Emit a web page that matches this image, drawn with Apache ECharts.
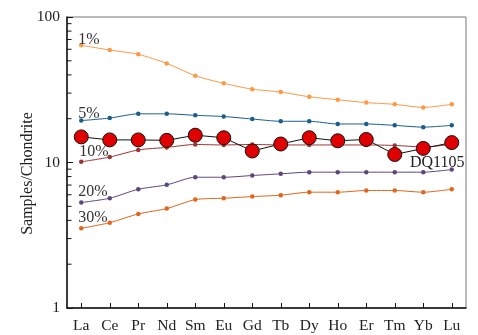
<!DOCTYPE html>
<html>
<head>
<meta charset="utf-8">
<script src="https://cdn.jsdelivr.net/npm/echarts@6/dist/echarts.min.js"></script>
<style>
html,body{margin:0;padding:0;background:#fff;}
#chart{width:478px;height:335px;}
</style>
</head>
<body>
<div id="chart"></div>
<script>
var categories = ['La','Ce','Pr','Nd','Sm','Eu','Gd','Tb','Dy','Ho','Er','Tm','Yb','Lu'];
var melt1  = [63.9,59.3,55.4,48.0,39.5,35.0,31.9,30.5,28.3,27.0,25.8,25.1,23.9,25.1];
var melt5  = [19.4,20.2,21.6,21.6,21.1,20.7,19.9,19.2,19.2,18.4,18.4,18.0,17.5,18.0];
var melt10 = [10.1,10.9,12.2,12.7,13.3,13.2,13.3,13.2,13.2,13.2,13.2,13.1,12.8,13.3];
var melt20 = [5.31,5.68,6.55,7.02,7.92,7.92,8.14,8.36,8.58,8.58,8.58,8.58,8.58,8.95];
var melt30 = [3.53,3.86,4.43,4.82,5.56,5.68,5.83,5.96,6.25,6.25,6.42,6.42,6.25,6.55];
var sampleDQ1105 = [15.0,14.3,14.3,14.2,15.4,14.8,12.0,13.4,14.8,14.1,14.4,11.35,12.5,13.7];
var yTickLabels = [1, 10, 100];
var minorTickValues = [2,3,4,5,6,7,8,9,20,30,40,50,60,70,80,90];

var FONT = 'Liberation Serif';

function modelSeries(name, values, color, offset) {
  return {
    name: name,
    type: 'line',
    smooth: 0.25,
    symbol: 'circle',
    symbolSize: 4.5,
    z: 3,
    lineStyle: {color: color, width: 1},
    itemStyle: {color: color},
    data: values.map(function (v, i) {
      if (i === 0) {
        return {
          value: v,
          label: {
            show: true,
            position: 'inside',
            align: 'left',
            verticalAlign: 'middle',
            offset: offset,
            formatter: name,
            fontFamily: FONT,
            fontSize: 16,
            color: '#333'
          }
        };
      }
      return v;
    })
  };
}

var chart = echarts.init(document.getElementById('chart'), null, {renderer: 'canvas'});

var option = {
  backgroundColor: '#fff',
  animation: false,
  grid: {
    left: 67, right: 12, top: 17, bottom: 27,
    show: true, borderColor: '#777', borderWidth: 1, backgroundColor: 'transparent'
  },
  xAxis: {
    type: 'category',
    data: categories,
    boundaryGap: true,
    axisLine: {show: true, lineStyle: {color: '#111', width: 1.5}},
    axisTick: {show: true, inside: true, alignWithLabel: true, length: 5, lineStyle: {color: '#111', width: 1}},
    axisLabel: {fontFamily: FONT, fontSize: 15.5, color: '#222', margin: 10, interval: 0},
    splitLine: {show: false}
  },
  yAxis: {
    type: 'log',
    logBase: 10,
    min: 1,
    max: 100,
    name: 'Samples/Chondrite',
    nameLocation: 'middle',
    nameGap: 31,
    nameMoveOverlap: false,
    nameTextStyle: {fontFamily: FONT, fontSize: 16, color: '#222', padding: [0, 22, 0, 0]},
    axisLine: {show: true, lineStyle: {color: '#111', width: 1.5}},
    axisTick: {show: true, inside: true, length: 6, lineStyle: {color: '#111', width: 1}},
    minorTick: {show: false},
    axisLabel: {
      fontFamily: FONT, fontSize: 15.5, color: '#222', margin: 7,
      formatter: function (v) { return yTickLabels.indexOf(Math.round(v)) >= 0 ? String(Math.round(v)) : ''; }
    },
    splitLine: {show: false},
    minorSplitLine: {show: false}
  },
  series: [
    {
      type: 'custom',
      silent: true,
      clip: false,
      z: 1,
      data: minorTickValues.map(function (v) { return [0, v]; }),
      encode: {x: 0, y: 1},
      renderItem: function (params, api) {
        var pt = api.coord([0, api.value(1)]);
        var x0 = params.coordSys.x;
        return {
          type: 'line',
          shape: {x1: x0, y1: pt[1], x2: x0 + 4.5, y2: pt[1]},
          style: {stroke: '#111', lineWidth: 1}
        };
      }
    },
    modelSeries('1%', melt1, '#fb9a46', [-3, -6]),
    modelSeries('5%', melt5, '#1b5e8a', [-3, -7]),
    modelSeries('10%', melt10, '#9c3535', [-2, -10]),
    modelSeries('20%', melt20, '#5d4580', [-3, -11]),
    modelSeries('30%', melt30, '#e2651b', [-3, -11]),
    {
      name: 'DQ1105',
      type: 'line',
      symbol: 'circle',
      symbolSize: 14,
      z: 5,
      lineStyle: {color: '#111', width: 1},
      itemStyle: {color: '#e00000', borderColor: '#111', borderWidth: 1},
      data: sampleDQ1105.map(function (v, i) {
        if (i === 12) {
          return {
            value: v,
            label: {
              show: true,
              position: 'inside',
              offset: [14, 14],
              formatter: 'DQ1105',
              fontFamily: FONT,
              fontSize: 16,
              color: '#222'
            }
          };
        }
        return v;
      })
    }
  ]
};
chart.setOption(option);
</script>
</body>
</html>
